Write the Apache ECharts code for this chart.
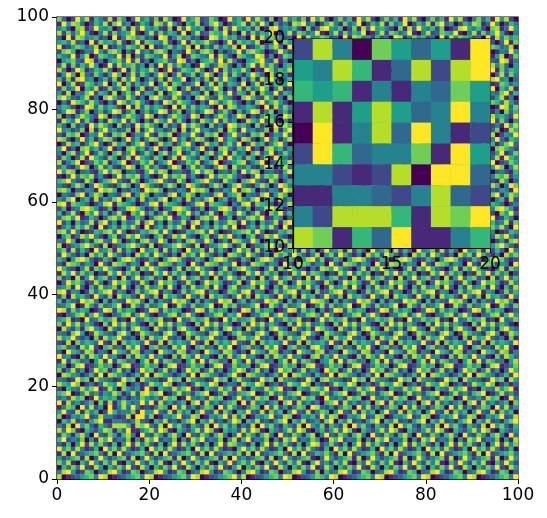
<!DOCTYPE html>
<html><head><meta charset="utf-8">
<script src="https://cdn.jsdelivr.net/npm/echarts@6/dist/echarts.min.js"></script>
<style>html,body{margin:0;padding:0;background:#fff}#c{width:547px;height:518px}</style>
</head><body><div id="c"></div>
<script>
// Inset values (y=19 top row down to y=10), x=10..19, scale 0-9
const insetRows = [
"2840753519","5486138289","6561414375","1815853494","0914839412",
"2963447195","4421280993","1144324832","4288861879","8716391146"];
// Main map rows (y=99 top down to y=0), x=0..99, scale 0-9
const mainRows = [
"7302958164281750394627185019468237501946293851702846371958204736195820473619582047361958204736195820",
"1958730264817935026418739520648137950246817395062418793502684173590264817359026481793502648713950264",
"4620781395460271839546217083954602718395462701893546207138954602718395642071839546270138954620781395",
"8273695104827356910482736519048237659140827365901482763591048273659014827635910482376591048273695104",
"3091874562309148756230981475623019847562309184765230918457623091874526230981475623091847652309184756",
"5648230917564820391765482039175684203917564802391756842039175648230917564820391756482309175648203917",
"9125763480912537648091257364809152736480912573684091275364809125736840912573648091527364809125763480",
"2786014395278604193527860431952786041359278640139527860413592786041395278604139527860413952786014395",
"6439158027643918052764391580276439185207643981502764391850276493185027643918502764391850276439158027",
"0567329814056739281405673298140567392841056793281405673928410567392814056739281405673928140567329814",
"3817264950192846735061928473501962487305169284730561928473051692874305169284370516928473501692847305",
"8402971365840291736584029137658402917365840219736584029173658402971365840291736584029713658402917365",
"1596083274159603827415960382471596038274159630827415960382741596083274159603287415960382741596038274",
"6271894503627184950362718459036271849530627184950362781495036271849503627148950362718495036271894503",
"9048127635904817263590481762359048172653904817263590418726359048172635904817623590481726359048127635",
"2735906481273596048127359604812735960418273596048127359640812735960481273569048127359604812735906481",
"5180437926518047392651804793265180473926518074392651804739265180473962518047392651804739265180437926",
"7963258140796328514079632851407963285410796328514079362851407963285140796328541079632851407963258140",
"0419763852041973685204197386520419736852041793685204197368520419736582041973685204197368520419763852",
"4652019837465209183746520918374652091873465209183746520981374652091837465290183746520918374652019837",
"2598147036259814703625981470362598147306259814703625918470362598147036259814730625981470362598140736",
"7031586429703158642970315864297031586249703158642970351864297031586429703158642970315864297031856429",
"1864927305186492730518649273051864927350186492730518694273051864927305186492735018649273051864927305",
"6307241958630724195863072419586307241985630724195863072149586307241958630724195863072419586307241958",
"9452370816945237081694523708169452370861945237081694523780169452370816945237081694523708169452370186",
"3176802549317680254931768025493176802594317680254931768205493176802549317680254931768025493176802549",
"8720493615872049361587204936158720493651872049361587204396158720493615872049361587204936158720493165",
"0285614793028561479302856147930285614739028561479302856417930285614793028561479302856147930285614793",
"5913078462591307846259130784625913078426591307846259130784625913078462591307846259130784625913078642",
"4068259137406825913740682591374068259173406825913740682519374068259137406825913740682591374068259137",
"2750381964275038196427503819642750381946275038196427503891642750381964275038196427503819642750381964",
"8146902375814690237581469023758146902357814690237581469032758146902375814690237581469023758146902375",
"3621597048362159704836215970483621597084362159704836215907483621597048362159704836215970483621597048",
"9587034216958703421695870342169587034261958703421695870324169587034216958703421695870342169587034216",
"1039476825103947682510394768251039476852103947682510394786251039476825103947682510394768251039476825",
"6794218503679421850367942185036794218530679421850367942158036794218503679421850367942185036794218503",
"4215860397421586039742158603974215860379421586039742158630974215860397421586039742158603974215860397",
"7860325419786032541978603254197860325491786032541978603245197860325419786032541978603254197860325419",
"0432791586043279158604327915860432791568043279158604327951860432791586043279158604327915860432791586",
"5379046182537904618253790461825379046128537904618253790416825379046182537904618253790461825379046182",
"8917653024891765302489176530248917653042891765302489176503248917653024891765302489176530248917653024",
"2603489751260348975126034897512603489715260348975126034879512603489751260348975126034897512603489751",
"6148207593614820759361482075936148207539614820759361482057936148207593614820759361482075936148207593",
"3785912640378591264037859126403785912604378591264037859162403785912640378591264037859126403785912640",
"9250634817925063481792506348179250634871925063481792506384179250634817925063481792506348179250634817",
"1462758309146275830914627583091462758390146275830914627538091462758309146275830914627583091462758309",
"7839401265783940126578394012657839401256783940126578394021657839401265783940126578394012657839401265",
"0571386942057138694205713869420571386924057138694205713896420571386942057138694205713869420571386942",
"4396025178439602517843960251784396025187439602517843960215784396025178439602517843960251784396025178",
"8024579631802457963180245796318024579613802457963180245769318024579631802457963180245796318024579631",
"5718263094571826309457182630945718263049571826309457182603945718263094571826309457182630945718263094",
"2963140857296314085729631408572963140875296314085729631480572963140857296314085729631408572963140857",
"6405897312640589731264058973126405897321640589731264058937126405897312640589731264058973126405897312",
"3187625409318762540931876254093187625490318762540931876245093187625409318762540931876254093187625409",
"9632048175963204817596320481759632048157963204817596320418759632048175963204817596320481759632048175",
"1859374602185937460218593746021859374620185937460218593764021859374602185937460218593746021859374602",
"7240815936724081593672408159367240815963724081593672408195367240815936724081593672408159367240815936",
"0396751284039675128403967512840396751248039675128403967521840396751284039675128403967512840396751284",
"4571930628457193062845719306284571930682457193062845719360284571930628457193062845719306284571930628",
"8915402736891540273689154027368915402763891540273689154072368915402736891540273689154027368915402736",
"2708563194270856319427085631942708563149270856319427085613942708563194270856319427085631942708563194",
"6153297840615329784061532978406153297804615329784061532987406153297840615329784061532978406153297840",
"3469018527346901852734690185273469018572346901852734690158273469018527346901852734690185273469018527",
"9827465013982746501398274650139827465031982746501398274605139827465013982746501398274650139827465013",
"1034782695103478269510347826951034782659103478269510347862951034782695103478269510347826951034782695",
"5681209347568120934756812093475681209374568120934756812039475681209347568120934756812093475681209347",
"7295836410729583641072958364107295836401729583641072958346107295836410729583641072958364107295836410",
"0842617953084261795308426179530842617935084261795308426197530842617953084261795308426179530842617953",
"4317950286431795028643179502864317950268431795028643179520864317950286431795028643179502864317950286",
"8569324071856932407185693240718569324017856932407185693204718569324071856932407185693240718569324071",
"2180746539218074653921807465392180746593218074653921807456392180746539218074653921807465392180746539",
"6734185920673418592067341859206734185902673418592067341895206734185920673418592067341859206734185920",
"3096528714309652871430965287143096528741309652871430965278143096528714309652871430965287143096528714",
"9451072863945107286394510728639451072836945107286394510782639451072863945107286394510728639451072863",
"1927634058192763405819276340581927634085192763405819276304581927634058192763405819276340581927634058",
"5603891247560389124756038912475603891274560389124756038921475603891247560389124756038912475603891247",
"7148250396714825039671482503967148250369714825039671482530967148250396714825039671482503967148250396",
"0875413629087541362908754136290875413692087541362908754163290875413629087541362908754136290875413629",
"4312967085431296708543129670854312967058431296708543129607854312967085431296708543129670854312967085",
"8659702413865970241386597024138659702431865970241386597042138659702413865970241386597024138659702413",
"2064385791206438579120643857912064385719206438579120643875912064385791206438579120643857912064385791",
"6790148352679014835267901483526790148325679014835267901438526790148352679014835267901483526790148352",
"3528670194352867019435286701943528670149352867019435286710943528670194352867019435286701943528670194",
"9183524607918352460791835246079183524670918352460791835240679183524607918352460791835246079183524607",
"1476093825147609382514760938251476093852147609382514760983251476093825147609382514760938251476093825",
"5932817460593281746059328174605932817406593281746059328147605932817460593281746059328174605932817460",
"7015469238701546923870154692387015469283701546923870154629387015469238701546923870154692387015469238",
"0648231579064823157906482315790648231597064823157906482351790648231579064823157906482315790648231579",
"4280957316428095731642809573164280957361428095731642809537164280957316428095731642809573164280957316",
"8397106425839710642583971064258397106452839710642583971046258397106425839710642583971064258397106425",
"2751684093275168409327516840932751684039275168409327516804932751684093275168409327516840932751684093",
"6924370518692437051869243705186924370581692437051869243750186924370518692437051869243705186924370518",
"3160592847316059284731605928473160592874316059284731605982473160592847316059284731605928473160592847",
"9573841260957384126095738412609573841206957384126095738421609573841260957384126095738412609573841260",
"1809235674180923567418092356741809235647180923567418092365741809235674180923567418092356741809235674",
"5246718039524671803952467180395246718093524671803952467103952467180395246718039524671803952467180395",
"7481063952748106395274810639527481063925748106395274810693527481063952748106395274810639527481063952",
"0637492185063749218506374921850637492158063749218506374912850637492185063749218506374921850637492185",
"4895127603489512760348951276034895127630489512760348951270634895127603489512760348951276034895127603",
"8012356749801235674980123567498012356794801235674980123576498012356749801235674980123567498012356749"];
</script>
<script>
const N = 100;
const grid = mainRows.map(s => s.split('').map(Number));
for (let i = 0; i < 10; i++) for (let j = 0; j < 10; j++) grid[19 - (19 - i) + 80][10 + j] = +insetRows[i][j];
const mainData = [];
for (let r = 0; r < N; r++) for (let c = 0; c < N; c++) mainData.push([c, 99 - r, grid[r][c]]);
const insetData = [];
for (let i = 0; i < 10; i++) for (let j = 0; j < 10; j++) insetData.push([10 + j, 19 - i, +insetRows[i][j]]);

const viridis = ['#440154','#482878','#3e4989','#31688e','#26828e','#1f9e89','#35b779','#6ece58','#b5de2b','#fde725'];
function rect(params, api) {
  const p0 = api.coord([api.value(0), api.value(1) + 1]);
  const p1 = api.coord([api.value(0) + 1, api.value(1)]);
  return {type:'rect', shape:{x:p0[0], y:p0[1], width:p1[0]-p0[0]+0.3, height:p1[1]-p0[1]+0.3},
    style:{fill: api.visual('color')}};
}
const axisCommon = {
  axisLine:{show:true, onZero:false, lineStyle:{color:'#000', width:1.2}},
  axisTick:{show:true, inside:false, length:5, lineStyle:{color:'#000'}},
  axisLabel:{color:'#000', fontSize:17, fontFamily:'DejaVu Sans'},
  splitLine:{show:false}
};
const chart = echarts.init(document.getElementById('c'));
chart.setOption({
  animation:false,
  grid:[{left:57, top:17, width:461, height:462, show:true, borderColor:'#000', borderWidth:1.2, z:0},
        {left:293, top:39, width:197, height:209, show:true, borderColor:'#000', borderWidth:1.2, z:5}],
  xAxis:[Object.assign({type:'value', gridIndex:0, min:0, max:100, interval:20}, axisCommon),
         Object.assign({type:'value', gridIndex:1, min:10, max:20, interval:5, z:6}, axisCommon)],
  yAxis:[Object.assign({type:'value', gridIndex:0, min:0, max:100, interval:20}, axisCommon),
         Object.assign({type:'value', gridIndex:1, min:10, max:20, interval:2, z:6}, axisCommon)],
  visualMap:{show:false, type:'continuous', min:0, max:9, dimension:2, seriesIndex:[0,1], inRange:{color:viridis}},
  series:[
    {type:'custom', xAxisIndex:0, yAxisIndex:0, data:mainData, renderItem:rect, z:1},
    {type:'custom', xAxisIndex:1, yAxisIndex:1, data:insetData, renderItem:rect, z:5}
  ]
});
</script></body></html>
